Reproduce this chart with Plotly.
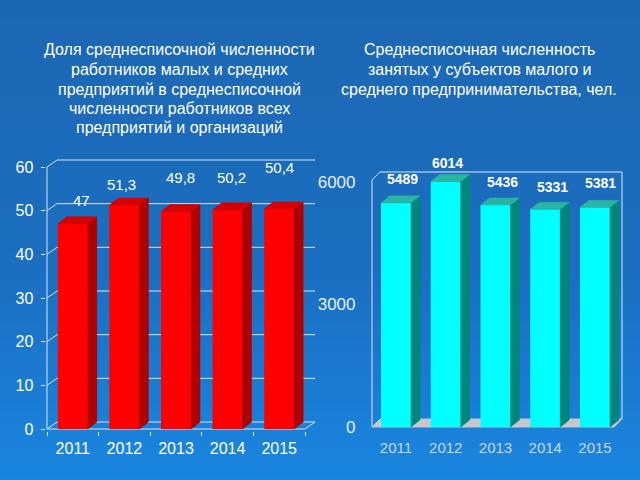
import plotly.graph_objects as go

# ---------------- data ----------------
years = ["2011", "2012", "2013", "2014", "2015"]
share_values = [47, 51.3, 49.8, 50.2, 50.4]
share_labels = ["47", "51,3", "49,8", "50,2", "50,4"]
share_ticks = [0, 10, 20, 30, 40, 50, 60]
employed_values = [5489, 6014, 5436, 5331, 5381]
employed_labels = ["5489", "6014", "5436", "5331", "5381"]
employed_ticks = [0, 3000, 6000]

title_left_lines = ["Доля среднесписочной численности", "работников малых и средних",
                    "предприятий в среднесписочной", "численности работников всех",
                    "предприятий и организаций"]
title_right_lines = ["Среднесписочная численность", "занятых у субъектов малого и",
                     "среднего предпринимательства, чел."]

# label offsets (px) relative to the front-top centre of each bar
share_label_shift = [(9, 23), (-3, 20), (4, 34), (4, 32), (0, 41)]
employed_label_shift = [(7, 24), (2, 18), (7, 23), (7, 22), (6, 24)]

# ---------------- geometry (px) ----------------
W, H = 640, 480
FONT = "Arial, Liberation Sans, sans-serif"
LINE = "#dbe4f0"

L = dict(x0=47.0, ux=51.6, y0=429.0, uy=262 / 60.0)       # left chart
R = dict(x0=371.1, ux=49.75, y0=427.0, uy=245 / 6000.0)   # right chart


def px2x(c, px):
    return (px - c["x0"]) / c["ux"] - 0.5


def px2y(c, py):
    return (c["y0"] - py) / c["uy"]


def axes(c, pl, pr, pb, pt):
    return dict(xdom=[pl / W, pr / W], xr=[px2x(c, pl), px2x(c, pr)],
                ydom=[1 - pb / H, 1 - pt / H], yr=[px2y(c, pb), px2y(c, pt)])


LA = axes(L, 45.5, 47 + 258 + 10 + 1.5, 430.5, 429 - 262 - 7 - 1.5)
RA = axes(R, 369.5, 625.0, 428.5, 169.0)

fig = go.Figure()

# ---------------- background gradient ----------------
fig.add_trace(go.Heatmap(
    x=[0, 1], y=[0, 0.45, 1], z=[[0, 0], [1, 1], [2, 2]],
    colorscale=[[0, "#1a86e0"], [0.5, "#1b6ec0"], [1, "#1c67b3"]],
    zsmooth="best", showscale=False, hoverinfo="skip",
    xaxis="x", yaxis="y"))

shapes = []


def seg(xr_, yr_, a, b, color=LINE, width=1):
    shapes.append(dict(type="line", xref=xr_, yref=yr_, x0=a[0], y0=a[1], x1=b[0], y1=b[1],
                       line=dict(color=color, width=width), layer="below"))


# ---------------- left chart walls ----------------
n = len(years)
dxw, dyw = 10 / L["ux"], 7 / L["uy"]
ymax = share_ticks[-1]
seg("x2", "y2", (-0.5, 0), (-0.5, ymax))
for t in share_ticks:
    seg("x2", "y2", (-0.5, t), (-0.5 + dxw, t + dyw))
    seg("x2", "y2", (-0.5 + dxw, t + dyw), (n - 0.5 + dxw, t + dyw))
seg("x2", "y2", (-0.5, 0), (n - 0.5, 0))
seg("x2", "y2", (n - 0.5, 0), (n - 0.5 + dxw, dyw))

# ---------------- right chart walls / floor ----------------
def rp(px, py):
    return (px2x(R, px), px2y(R, py))


fl = [rp(372, 427), rp(614, 427), rp(622, 419), rp(380, 419)]
shapes.append(dict(type="path", xref="x3", yref="y3", layer="below",
                   path="M " + " L ".join(f"{a},{b}" for a, b in fl) + " Z",
                   fillcolor="#c4c8cc", line=dict(color="#c4c8cc", width=1)))
seg("x3", "y3", rp(372, 427), rp(372, 180))
seg("x3", "y3", rp(372, 180), rp(380, 172))
seg("x3", "y3", rp(380, 172), rp(622, 172))
seg("x3", "y3", rp(622, 172), rp(622, 419))


# ---------------- 3D bars ----------------
def bars3d(c, vals, front, side, top, xa, ya, wpx=30, dpx=(9, 7)):
    w = wpx / c["ux"]
    dx, dy = dpx[0] / c["ux"], dpx[1] / c["uy"]
    idx = list(range(len(vals)))
    fig.add_trace(go.Bar(x=idx, y=vals, width=w, marker=dict(color=front, line=dict(width=0)),
                         xaxis=xa, yaxis=ya, hoverinfo="skip"))
    for i, v in zip(idx, vals):
        r = i + w / 2
        l = i - w / 2
        fig.add_trace(go.Scatter(x=[r, r + dx, r + dx, r, r], y=[0, dy, v + dy, v, 0],
                                 fill="toself", fillcolor=side, mode="lines",
                                 line=dict(color=side, width=0.5),
                                 xaxis=xa, yaxis=ya, hoverinfo="skip"))
        fig.add_trace(go.Scatter(x=[l, r, r + dx, l + dx, l], y=[v, v, v + dy, v + dy, v],
                                 fill="toself", fillcolor=top, mode="lines",
                                 line=dict(color=top, width=0.5),
                                 xaxis=xa, yaxis=ya, hoverinfo="skip"))


bars3d(L, share_values, "#ff0000", "#ad0000", "#d60000", "x2", "y2")
bars3d(R, employed_values, "#00ffff", "#00867c", "#2ab4a4", "x3", "y3")

# ---------------- annotations ----------------
ann = []
for i, (v, t) in enumerate(zip(share_values, share_labels)):
    sx, sy = share_label_shift[i]
    ann.append(dict(x=i, y=v, xref="x2", yref="y2", text=t, showarrow=False,
                    xshift=sx, yshift=sy, font=dict(family=FONT, size=15, color="white")))
for i, (v, t) in enumerate(zip(employed_values, employed_labels)):
    sx, sy = employed_label_shift[i]
    ann.append(dict(x=i, y=v, xref="x3", yref="y3", text=f"<b>{t}</b>", showarrow=False,
                    xshift=sx, yshift=sy, font=dict(family=FONT, size=14, color="white")))

TITLE_Y0, TITLE_DY = 50.0, 19.5
for cx, lines in ((179, title_left_lines), (479, title_right_lines)):
    for k, line in enumerate(lines):
        ann.append(dict(x=cx / W, y=1 - (TITLE_Y0 + k * TITLE_DY) / H, xref="paper", yref="paper",
                        xanchor="center", yanchor="middle", text=line, showarrow=False,
                        font=dict(family=FONT, size=16, color="white")))

hidden = dict(visible=False, fixedrange=True)
fig.update_layout(
    width=W, height=H, margin=dict(l=0, r=0, t=0, b=0, pad=0, autoexpand=False),
    paper_bgcolor="#1a86e0", plot_bgcolor="rgba(0,0,0,0)",
    showlegend=False, barmode="overlay",
    shapes=shapes, annotations=ann,
    xaxis=dict(domain=[0, 1], range=[0, 1], **hidden),
    yaxis=dict(domain=[0, 1], range=[0, 1], **hidden),
    xaxis2=dict(domain=LA["xdom"], range=LA["xr"], anchor="y2", showgrid=False, zeroline=False,
                showline=False, tickvals=list(range(n)), ticktext=years, ticks="",
                ticklabelstandoff=6, automargin=False, fixedrange=True,
                minor=dict(tickvals=[i - 0.5 for i in range(n + 1)], ticks="outside",
                           ticklen=4, tickcolor=LINE, tickwidth=1),
                tickfont=dict(family=FONT, size=16, color="white")),
    yaxis2=dict(domain=LA["ydom"], range=LA["yr"], anchor="x2", showgrid=False, zeroline=False,
                showline=False, tickvals=share_ticks, ticks="outside", ticklen=4,
                tickcolor=LINE, tickwidth=1, ticklabelstandoff=4, automargin=False,
                fixedrange=True,
                tickfont=dict(family=FONT, size=16, color="white")),
    xaxis3=dict(domain=RA["xdom"], range=RA["xr"], anchor="y3", showgrid=False, zeroline=False,
                showline=False, tickvals=list(range(n)), ticktext=years, ticks="",
                ticklabelstandoff=8, automargin=False, fixedrange=True,
                tickfont=dict(family=FONT, size=15, color="#c8d6ec")),
    yaxis3=dict(domain=RA["ydom"], range=RA["yr"], anchor="x3", showgrid=False, zeroline=False,
                showline=False, tickvals=employed_ticks, ticks="", ticklabelstandoff=13,
                automargin=False, fixedrange=True,
                tickfont=dict(family=FONT, size=17, color="#e8eef8")),
)

fig.write_html("out.html", config={"displayModeBar": False, "staticPlot": True},
               post_script="document.body.style.margin='0';document.body.style.background='#1a86e0';")
